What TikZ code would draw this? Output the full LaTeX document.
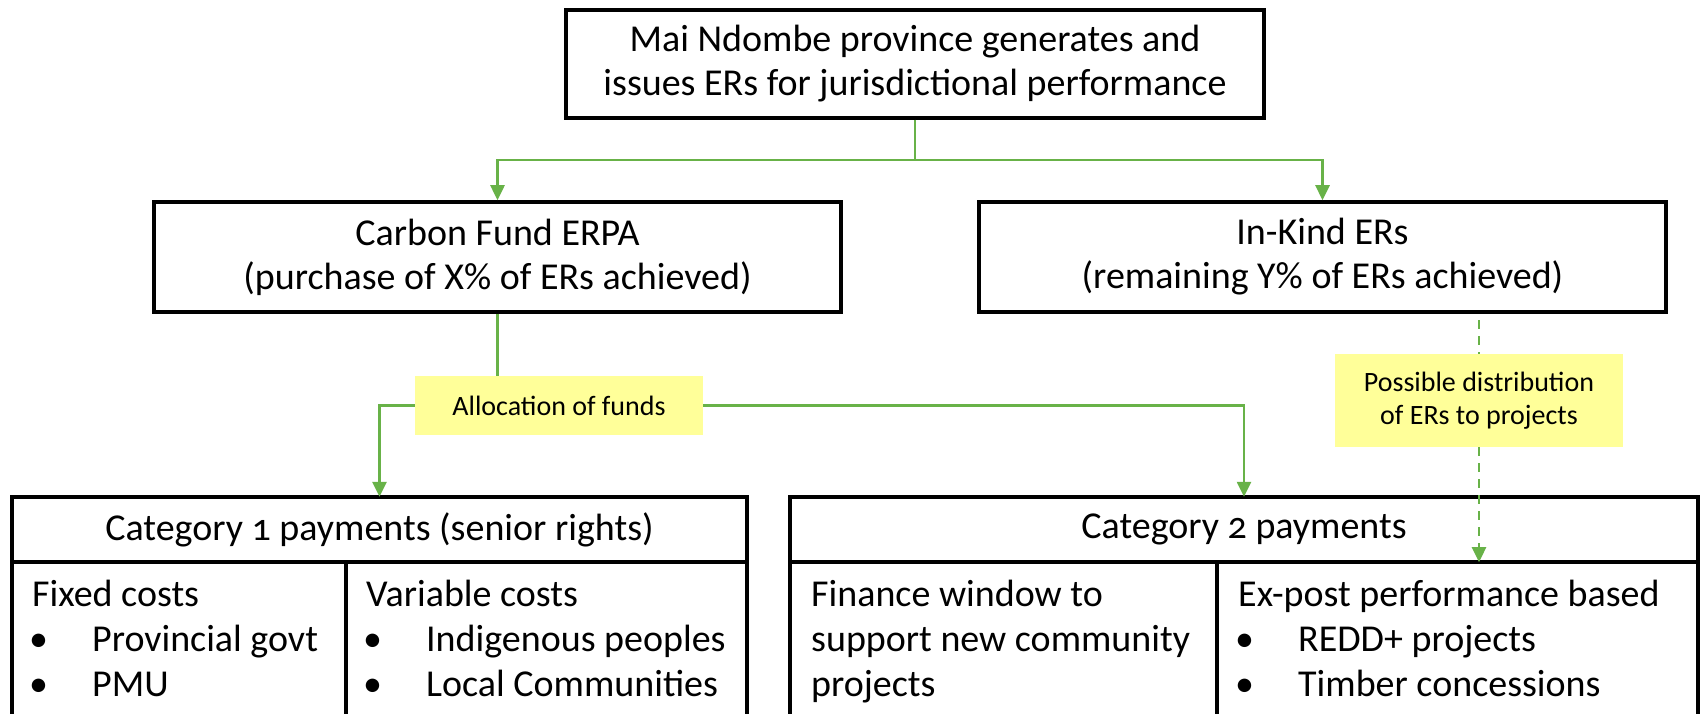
\documentclass[tikz,border=0pt]{standalone}
\usepackage{fontspec}
\setmainfont{Carlito}[Numbers=OldStyle]
\usetikzlibrary{arrows.meta}
\definecolor{lgreen}{RGB}{104,178,72}
\definecolor{lyellow}{RGB}{255,255,153}
\tikzset{
  box/.style={draw=black,line width=3.5pt,rectangle,inner sep=0pt,align=center,
    font=\fontsize{38}{44}\selectfont},
  label/.style={fill=lyellow,rectangle,inner sep=0pt,align=center,
    font=\fontsize{28}{33}\selectfont},
  conn/.style={draw=lgreen,line width=2.5pt},
  tip/.style={-{Triangle[length=15pt,width=14pt]}},
  dashconn/.style={conn,dash pattern=on 9pt off 7pt},
  cell/.style={anchor=north west,inner sep=0pt,align=left,
    font=\fontsize{38}{45}\selectfont},
  header/.style={inner sep=0pt,font=\fontsize{38}{44}\selectfont},
  frame/.style={draw=black,line width=3.5pt}
}
\newcommand{\bul}[1]{\hspace*{-3pt}\makebox[63pt][l]{\textbullet}#1}
\newcommand{\fst}{\rule{0pt}{30pt}}
\begin{document}
\begin{tikzpicture}[x=1pt,y=-1pt]
\useasboundingbox (0,0) rectangle (1700,714);
% top box
\node[box,minimum width=698pt,minimum height=108pt] (top) at (915,64)
  {Mai Ndombe province generates and\\issues ERs for jurisdictional performance};
\node[box,minimum width=687pt,minimum height=110pt] (cf) at (497.5,257)
  {Carbon Fund ERPA\\(purchase of X\% of ERs achieved)};
\node[box,minimum width=687pt,minimum height=110pt] (ik) at (1322.5,257)
  {In-Kind ERs\\(remaining Y\% of ERs achieved)};
% yellow labels
\node[label,minimum width=288pt,minimum height=59pt] (alloc) at (559,405.5)
  {Allocation of funds};
\node[label,minimum width=288pt,minimum height=93pt] (poss) at (1479,400.5)
  {Possible distribution\\of ERs to projects};
% category 1
\node[header,minimum width=735pt,minimum height=65pt] (c1h) at (379.5,529.5)
  {Category 1 payments (senior rights)};
\draw[frame] (12,730) -- (12,497) -- (747,497) -- (747,730);
\draw[frame] (12,562) -- (747,562);
\draw[frame] (346,562) -- (346,730);
\node[cell] (c1a) at (32,576)
  {\fst Fixed costs\\\bul{Provincial govt}\\\bul{PMU}};
\node[cell] (c1b) at (366,576)
  {\fst Variable costs\\\bul{Indigenous peoples}\\\bul{Local Communities}};
% category 2
\node[header,minimum width=908pt,minimum height=65pt] (c2h) at (1244,529.5)
  {Category 2 payments};
\draw[frame] (790,730) -- (790,497) -- (1705,497);
\draw[frame] (1698,497) -- (1698,730);
\draw[frame] (790,562) -- (1705,562);
\draw[frame] (1217,562) -- (1217,730);
\node[cell] (c2a) at (811,576)
  {\fst Finance window to\\support new community\\projects};
\node[cell] (c2b) at (1238,576)
  {\fst Ex-post performance based\\\bul{REDD+ projects}\\\bul{Timber concessions}};
% connectors
\coordinate (j) at (915,160);
\draw[conn] (top.south) -- (j);
\draw[conn,tip] (j) -| (cf.north);
\draw[conn,tip] (j) -| (ik.north);
\draw[conn] (cf.south) -- (cf.south |- alloc.north);
\draw[conn,tip] (alloc.west) -| (c1h.north);
\draw[conn,tip] (alloc.east) -| (c2h.north);
\coordinate (d1) at (1479,320);
\draw[dashconn] (d1) -- (poss.north);
\draw[dashconn,tip] (poss.south) -- (poss.south |- c2h.south);
\end{tikzpicture}
\end{document}
